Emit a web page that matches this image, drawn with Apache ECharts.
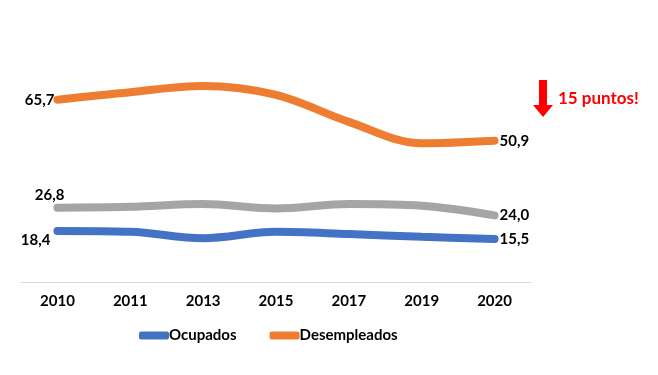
<!DOCTYPE html>
<html><head><meta charset="utf-8">
<script src="https://cdn.jsdelivr.net/npm/echarts@6/dist/echarts.min.js"></script>
<style>html,body{margin:0;padding:0;background:#fff}#c{width:658px;height:375px}</style>
</head><body><div id="c"></div>
<script>
const categories = ['2010','2011','2013','2015','2017','2019','2020'];
const ocupados = [18.4, 18.1, 15.8, 18.1, 17.3, 16.3, 15.5];
const desempleados = [65.7, 68.4, 70.6, 67.4, 57.7, 50.0, 50.9];
const total = [26.8, 27.1, 28.1, 26.5, 28.1, 27.5, 24.0];

const font = 'Lato, "Open Sans", sans-serif';
const fmt = v => v.toFixed(1).replace('.', ',');
function endLabels(data, posFirst, posLast, offFirst, offLast) {
  return data.map((v, i) => {
    const o = { value: v };
    if (i === 0) o.label = { show: true, position: posFirst, offset: offFirst || [0,0] };
    else if (i === data.length - 1) o.label = { show: true, position: posLast, offset: offLast || [0,0] };
    return o;
  });
}
const baseLabel = { show: false, color: '#000', fontWeight: 'bold', fontSize: 15, fontFamily: font, formatter: p => fmt(p.value) };
function mkSeries(name, color, data, offFirst) {
  return { name, type: 'line', smooth: 0.35, symbol: 'circle', symbolSize: 0, showSymbol: true,
    lineStyle: { color, width: 8, cap: 'round' }, itemStyle: { color },
    label: baseLabel, emphasis: { disabled: true },
    data: endLabels(data, 'left', 'right', offFirst, [0, 0]) };
}

const chart = echarts.init(document.getElementById('c'));
chart.setOption({
  animation: false,
  grid: { left: 21, right: 127, top: 60, bottom: 93 },
  legend: {
    data: ['Ocupados', 'Desempleados'],
    bottom: 27, left: 134, itemGap: 33, itemWidth: 30, itemHeight: 8,
    icon: 'roundRect',
    textStyle: { color: '#000', fontWeight: 'bold', fontSize: 15, fontFamily: font, padding: [0,0,0,-5] }
  },
  xAxis: {
    type: 'category', data: categories, boundaryGap: true,
    axisLine: { lineStyle: { color: '#d9d9d9', width: 1 } },
    axisTick: { show: false },
    axisLabel: { color: '#000', fontWeight: 'bold', fontSize: 15, fontFamily: font, margin: 12 }
  },
  yAxis: { type: 'value', min: 0, max: 80, show: false, splitLine: { show: false } },
  series: [
    mkSeries('Ocupados', '#4472c4', ocupados, [-2, 9]),
    mkSeries('Desempleados', '#ed7d31', desempleados, [2, 0]),
    mkSeries('Total', '#a5a5a5', total, [12, -12])
  ],
  graphic: [
    { type: 'polygon', shape: { points: [[539,80],[547,80],[547,105],[553,105],[543,117],[533,105],[539,105]] },
      style: { fill: '#ff0000' } },
    { type: 'text', left: 558, top: 90, style: { text: '15 puntos!', fill: '#ff0000', fontWeight: 'bold', fontSize: 17, fontFamily: font } }
  ]
});
</script></body></html>
